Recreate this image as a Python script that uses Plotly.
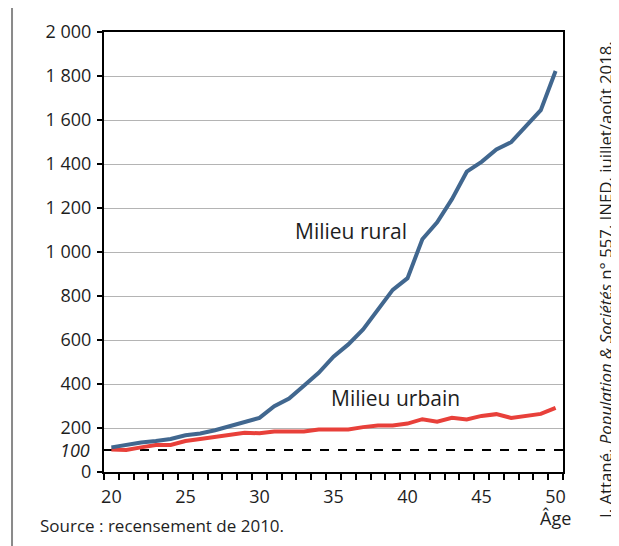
import plotly.graph_objects as go

ages = list(range(20, 51))
rural = [112, 125, 134, 141, 150, 167, 175, 190, 208, 228, 246, 299, 334, 392, 451,
         524, 580, 648, 738, 828, 881, 1058, 1135, 1240, 1365, 1410, 1466, 1499, 1572,
         1645, 1823]
urbain = [102, 100, 112, 123, 123, 141, 150, 159, 168, 178, 176, 184, 184, 184, 193,
          193, 193, 204, 211, 211, 220, 240, 229, 246, 239, 255, 263, 246, 254, 264, 291]
base_value = 100
y_ticks = list(range(0, 2001, 200))
y_ticktext = ["0", "200", "400", "600", "800", "1 000", "1 200", "1 400", "1 600", "1 800", "2 000"]
x_ticks = [20, 25, 30, 35, 40, 45, 50]

FONT = "Open Sans"
TXT = "#1e1e1e"

fig = go.Figure()
fig.add_trace(go.Scatter(x=ages, y=urbain, mode="lines",
                         line=dict(color="#e8403a", width=4), name="Milieu urbain"))
fig.add_trace(go.Scatter(x=ages, y=rural, mode="lines",
                         line=dict(color="#41678f", width=4), name="Milieu rural"))

fig.add_shape(type="line", xref="paper", yref="y", x0=0, x1=1, y0=base_value, y1=base_value,
              line=dict(color="black", width=2, dash="dash"), layer="below")
# left gray rule
fig.add_shape(type="line", xref="paper", yref="paper", x0=-0.2004, x1=-0.2004,
              y0=-0.2, y1=1.1, line=dict(color="#8a8a8a", width=2))

fig.update_layout(
    width=611, height=538,
    margin=dict(l=96, r=56, t=24, b=74),
    plot_bgcolor="white", paper_bgcolor="white",
    showlegend=False,
    font=dict(family=FONT, size=18, color=TXT),
    xaxis=dict(range=[19.5, 50.5], tickvals=x_ticks, ticks="", showgrid=False,
               showline=True, linecolor="black", linewidth=2, mirror=True,
               tickfont=dict(size=18, color=TXT), zeroline=False, ticklabelstandoff=7,
               minor=dict(ticks="outside", tick0=19.5, dtick=1, ticklen=6,
                          tickcolor="black", tickwidth=1.5, showgrid=False)),
    yaxis=dict(range=[0, 2000], tickvals=y_ticks, ticktext=y_ticktext,
               ticks="outside", ticklen=5, tickcolor="black", tickwidth=1.5,
               showgrid=True, gridcolor="#b4b4b4", gridwidth=1, ticklabelstandoff=2,
               showline=True, linecolor="black", linewidth=2, mirror=True,
               tickfont=dict(size=18, color=TXT), zeroline=False),
)

fig.add_annotation(x=36.2, y=1095, xref="x", yref="y", text="Milieu rural", showarrow=False,
                   font=dict(size=21, color=TXT), xanchor="center", yanchor="middle")
fig.add_annotation(x=39.2, y=335, xref="x", yref="y", text="Milieu urbain", showarrow=False,
                   font=dict(size=21, color=TXT), xanchor="center", yanchor="middle")
fig.add_annotation(x=0, y=base_value, xref="paper", yref="y", text="<i>100</i>", showarrow=False,
                   xanchor="right", yanchor="middle", xshift=-12, font=dict(size=18, color=TXT))
fig.add_annotation(x=1, y=-0.072, xref="paper", yref="paper", text="Âge", showarrow=False,
                   xanchor="center", yanchor="top", xshift=-8, font=dict(size=18, color=TXT))
fig.add_annotation(x=-0.143, y=-0.090, xref="paper", yref="paper",
                   text="Source : recensement de 2010.", showarrow=False,
                   xanchor="left", yanchor="top", font=dict(size=17, color=TXT))
fig.add_annotation(x=1.0915, y=0.4386, xref="paper", yref="paper",
                   text="I. Attané, <i>Population & Sociétés</i> n° 557, INED, juillet/août 2018.",
                   showarrow=False, textangle=-90, xanchor="center", yanchor="middle",
                   font=dict(size=16.8, color=TXT))
fig.add_annotation(x=0.5, y=1.052, xref="paper", yref="paper",
                   text="<b>Nombre de célibataires, selon l'âge (2010, milieu, 100 (a) à 20 ans)</b>",
                   showarrow=False, xanchor="center", yanchor="bottom",
                   font=dict(size=19, color="#e8403a"))

fig.write_html("out.html")
